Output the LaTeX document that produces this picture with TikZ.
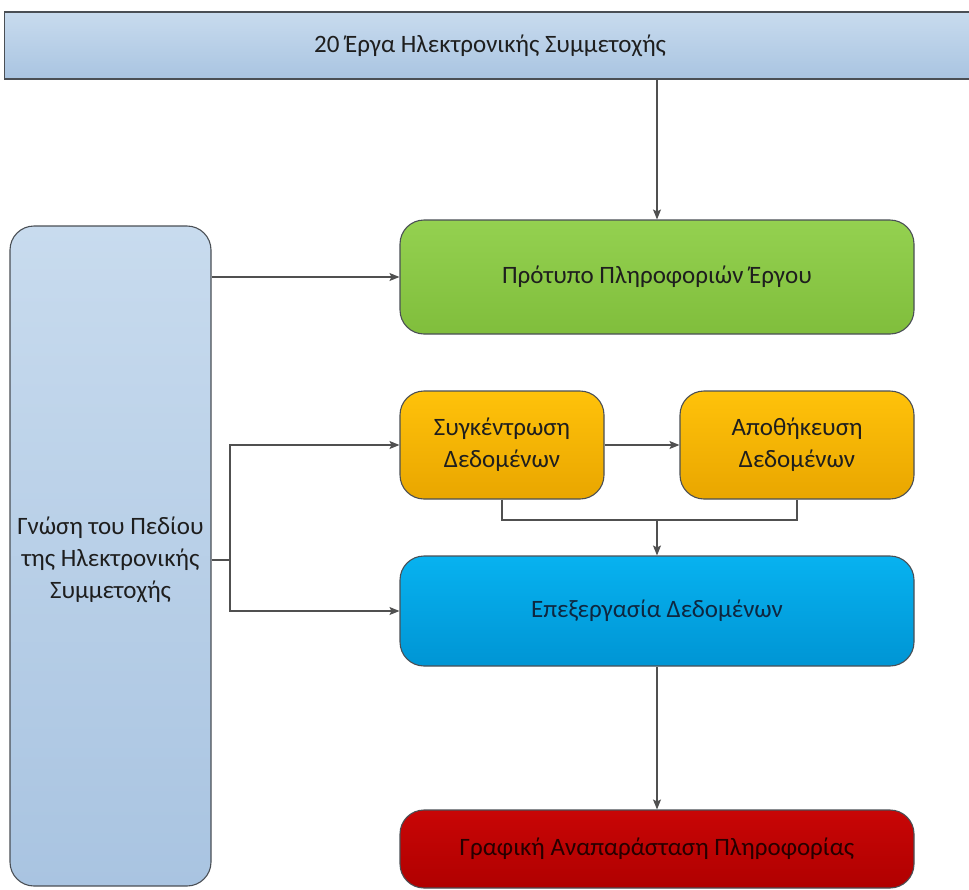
\documentclass[tikz,border=0pt]{standalone}
\usepackage{fontspec}
\setmainfont{Carlito}
\usetikzlibrary{arrows.meta}

\definecolor{edgegray}{HTML}{4A4F55}
\definecolor{linegray}{HTML}{505050}
\definecolor{paleblueA}{HTML}{C8DBEE}
\definecolor{paleblueB}{HTML}{A9C4E1}
\definecolor{greenA}{HTML}{94D150}
\definecolor{greenB}{HTML}{80BE3C}
\definecolor{orangeA}{HTML}{FFC20A}
\definecolor{orangeB}{HTML}{E9A600}
\definecolor{cyanA}{HTML}{07B2F0}
\definecolor{cyanB}{HTML}{0095D4}
\definecolor{redA}{HTML}{C80606}
\definecolor{redB}{HTML}{B00000}
\definecolor{darktext}{HTML}{1E1E1E}
\definecolor{navytext}{HTML}{0E2740}

\begin{document}
\begin{tikzpicture}[x=1pt,y=-1pt,
  labelfont/.style={font=\fontsize{25}{32}\selectfont, text=darktext},
  box/.style={draw=edgegray, line width=1.1pt, align=center, inner sep=0pt, labelfont},
  roundbox/.style={box, rounded corners=24pt},
  arr/.style={draw=linegray, line width=1.1pt, -{Stealth[length=10pt,width=8pt,inset=2pt]}},
  link/.style={draw=linegray, line width=1.1pt}]
\useasboundingbox (0,0) rectangle (969,889);

% header bar
\node[box, top color=paleblueA, bottom color=paleblueB,
      minimum width=995pt, minimum height=67pt] (top) at (502,45.5) {};
\node[labelfont] (toplabel) at (490,46)
  {20 Έργα Ηλεκτρονικής Συμμετοχής};

% domain knowledge column
\node[roundbox, top color=paleblueA, bottom color=paleblueB,
      minimum width=201pt, minimum height=660pt] (left) at (110.5,556) {};
\node[labelfont, align=center] (leftlabel) at (110.5,560)
  {Γνώση του Πεδίου\\της Ηλεκτρονικής\\Συμμετοχής};

% process boxes
\node[roundbox, top color=greenA, bottom color=greenB,
      minimum width=514pt, minimum height=114pt] (green) at (657,277)
  {Πρότυπο Πληροφοριών Έργου};
\node[roundbox, top color=orangeA, bottom color=orangeB,
      minimum width=204pt, minimum height=108pt] (org1) at (502,445)
  {Συγκέντρωση\\Δεδομένων};
\node[roundbox, top color=orangeA, bottom color=orangeB,
      minimum width=234pt, minimum height=108pt] (org2) at (797,445)
  {Αποθήκευση\\Δεδομένων};
\node[roundbox, top color=cyanA, bottom color=cyanB, text=navytext,
      minimum width=514pt, minimum height=110pt] (blue) at (657,611)
  {Επεξεργασία Δεδομένων};
\node[roundbox, top color=redA, bottom color=redB, text=black!85!red,
      minimum width=514pt, minimum height=78pt] (red) at (657,849)
  {Γραφική Αναπαράσταση Πληροφορίας};

% connectors
\coordinate (split) at (230,560);
\coordinate (merge) at (657,520);

\draw[arr] (green.north |- top.south) -- (green.north);
\draw[arr] (left.east |- green.west) -- (green.west);
\draw[link] (left.east |- split) -- (split);
\draw[arr] (split) |- (org1.west);
\draw[arr] (split) |- (blue.west);
\draw[arr] (org1.east) -- (org2.west);
\draw[link] (org1.south) |- (merge) -| (org2.south);
\draw[arr] (merge) -- (blue.north);
\draw[arr] (blue.south) -- (red.north);
\end{tikzpicture}
\end{document}
